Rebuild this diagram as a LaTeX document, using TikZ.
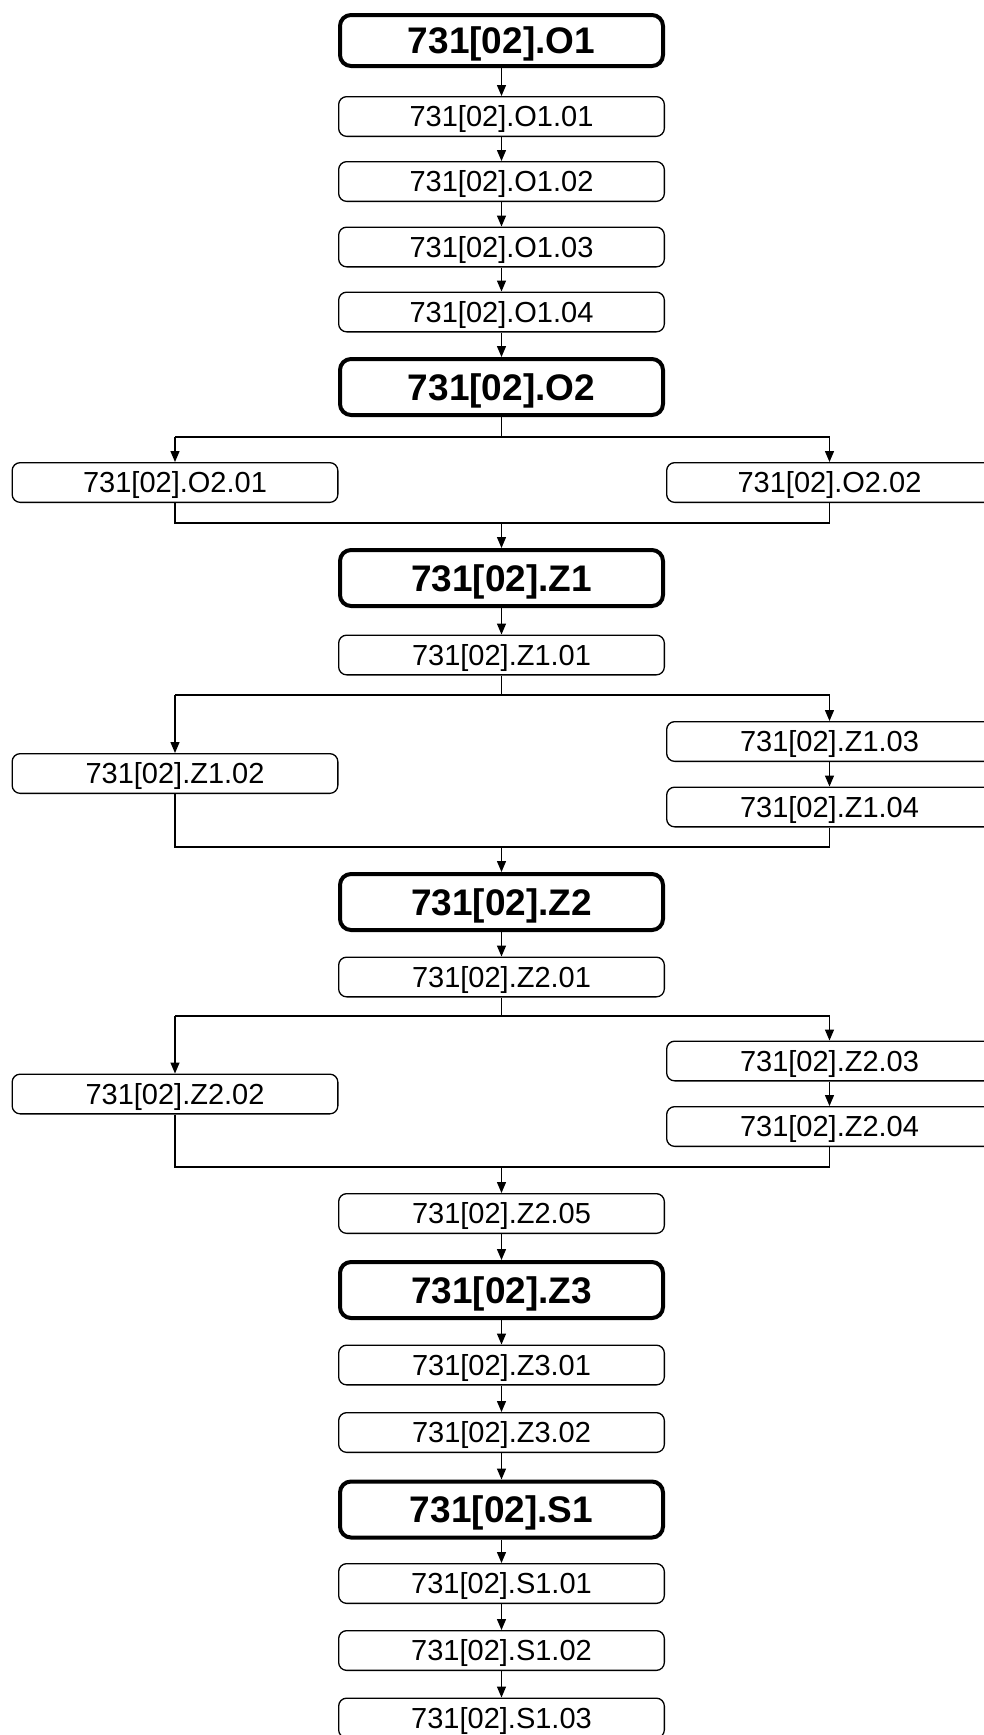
\documentclass[tikz,border=0pt]{standalone}
\usepackage{fontspec}
\setmainfont{Liberation Sans}
\usetikzlibrary{arrows.meta}
\begin{document}
\begin{tikzpicture}[x=1pt,y=-1pt,
  unit/.style={draw, rounded corners=8pt, line width=1.3pt,
    minimum width=325.7pt, minimum height=39.7pt, inner sep=0pt,
    text height=20.8pt, text depth=0pt,
    font=\fontsize{29}{34}\selectfont},
  module/.style={draw, rounded corners=11pt, line width=4pt,
    minimum width=323pt, minimum height=56pt, inner sep=0pt,
    text height=26.5pt, text depth=0pt,
    font=\fontsize{37}{44}\selectfont\bfseries},
  link/.style={line width=1.4pt, -{Triangle[length=11pt,width=9pt]}},
  bus/.style={line width=1.7pt}]
\useasboundingbox (0,0) rectangle (983,1735);

% main column
\node[module, minimum height=51pt] (o1) at (501.5,40.5) {731[02].O1};
\node[unit] (o101) at (501.5,116.5) {731[02].O1.01};
\node[unit] (o102) at (501.5,181.5) {731[02].O1.02};
\node[unit] (o103) at (501.5,247) {731[02].O1.03};
\node[unit] (o104) at (501.5,312) {731[02].O1.04};
\node[module] (o2) at (501.5,387) {731[02].O2};
\node[unit] (o201) at (175,482.5) {731[02].O2.01};
\node[unit] (o202) at (829.5,482.5) {731[02].O2.02};
\node[module] (z1) at (501.5,578) {731[02].Z1};
\node[unit] (z101) at (501.5,655) {731[02].Z1.01};
\node[unit] (z102) at (175,773.5) {731[02].Z1.02};
\node[unit] (z103) at (829.5,741.5) {731[02].Z1.03};
\node[unit] (z104) at (829.5,807) {731[02].Z1.04};
\node[module] (z2) at (501.5,902) {731[02].Z2};
\node[unit] (z201) at (501.5,977) {731[02].Z2.01};
\node[unit] (z202) at (175,1094) {731[02].Z2.02};
\node[unit] (z203) at (829.5,1061) {731[02].Z2.03};
\node[unit] (z204) at (829.5,1126.5) {731[02].Z2.04};
\node[unit] (z205) at (501.5,1213.5) {731[02].Z2.05};
\node[module] (z3) at (501.5,1290) {731[02].Z3};
\node[unit] (z301) at (501.5,1365) {731[02].Z3.01};
\node[unit] (z302) at (501.5,1432.5) {731[02].Z3.02};
\node[module] (s1) at (501.5,1509.5) {731[02].S1};
\node[unit] (s101) at (501.5,1583.5) {731[02].S1.01};
\node[unit] (s102) at (501.5,1650.5) {731[02].S1.02};
\node[unit] (s103) at (501.5,1718) {731[02].S1.03};

% bus junctions
\coordinate (b1) at (501.5,437);  \coordinate (b1l) at (175,437);  \coordinate (b1r) at (829.5,437);
\coordinate (m1) at (501.5,523);
\coordinate (b2) at (501.5,695);  \coordinate (b2l) at (175,695);  \coordinate (b2r) at (829.5,695);
\coordinate (m2) at (501.5,847);
\coordinate (b3) at (501.5,1016); \coordinate (b3l) at (175,1016); \coordinate (b3r) at (829.5,1016);
\coordinate (m3) at (501.5,1167);

% straight chains
\draw[link] (o1) -- (o101);
\draw[link] (o101) -- (o102);
\draw[link] (o102) -- (o103);
\draw[link] (o103) -- (o104);
\draw[link] (o104) -- (o2);

% O2 split and merge
\draw[bus] (o2.south) -- (b1);
\draw[bus] (b1l) -- (b1r);
\draw[link] (b1l) -- (o201.north);
\draw[link] (b1r) -- (o202.north);
\draw[bus] (o201.south) |- (m1) -| (o202.south);
\draw[link] (m1) -- (z1.north);

% Z1 split and merge
\draw[link] (z1) -- (z101);
\draw[bus] (z101.south) -- (b2);
\draw[bus] (b2l) -- (b2r);
\draw[link] (b2l) -- (z102.north);
\draw[link] (b2r) -- (z103.north);
\draw[link] (z103) -- (z104);
\draw[bus] (z102.south) |- (m2) -| (z104.south);
\draw[link] (m2) -- (z2.north);

% Z2 split and merge
\draw[link] (z2) -- (z201);
\draw[bus] (z201.south) -- (b3);
\draw[bus] (b3l) -- (b3r);
\draw[link] (b3l) -- (z202.north);
\draw[link] (b3r) -- (z203.north);
\draw[link] (z203) -- (z204);
\draw[bus] (z202.south) |- (m3) -| (z204.south);
\draw[link] (m3) -- (z205.north);

% remaining chain
\draw[link] (z205) -- (z3);
\draw[link] (z3) -- (z301);
\draw[link] (z301) -- (z302);
\draw[link] (z302) -- (s1);
\draw[link] (s1) -- (s101);
\draw[link] (s101) -- (s102);
\draw[link] (s102) -- (s103);
\end{tikzpicture}
\end{document}
